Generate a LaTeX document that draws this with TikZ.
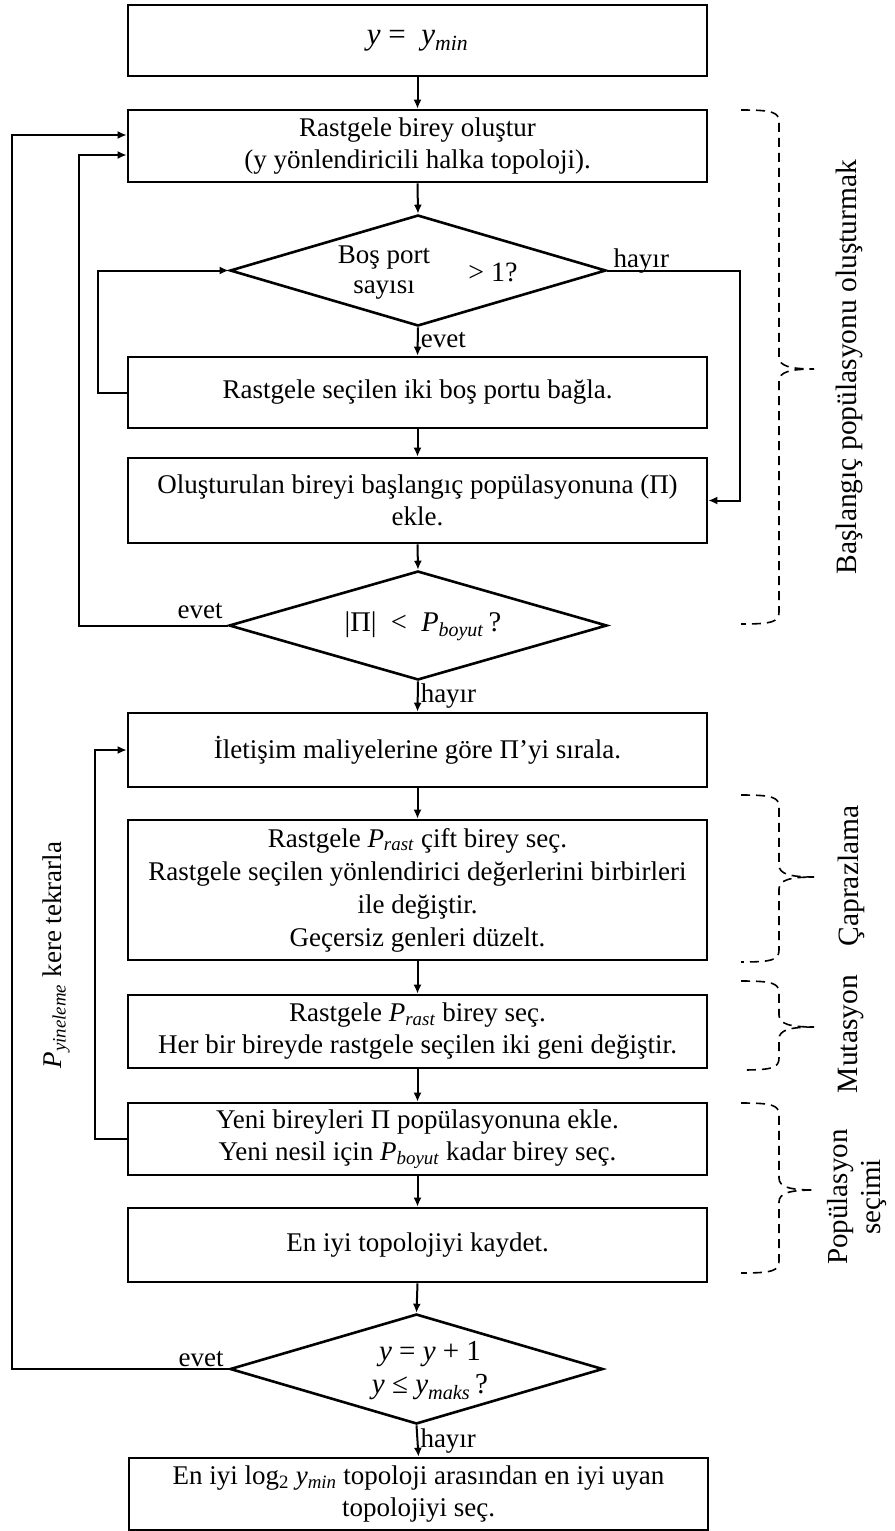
\documentclass[tikz,border=0pt]{standalone}
\usepackage{fontspec}
\setmainfont{Liberation Serif}
\usetikzlibrary{arrows.meta,shapes.geometric}

\newcommand{\fcBody}{\fontsize{27}{32}\selectfont}
\newcommand{\fcSide}{\fontsize{29.5}{34}\selectfont}
% italic variable with italic subscript
\newcommand{\vsub}[2]{\textit{#1}\textsubscript{\textit{#2}}}

% dashed curly bracket on the right: top, bottom, middle (y values)
\newcommand{\groupbrace}[3]{%
  \draw[bracket] (741,#1) .. controls (772,#1) and (779,#1+2) .. (779,#1+12)
    -- (779,#3-12) .. controls (779,#3-3) and (790,#3) .. (814,#3)
    .. controls (790,#3) and (779,#3+3) .. (779,#3+12)
    -- (779,#2-12) .. controls (779,#2-2) and (772,#2) .. (741,#2);}

\tikzset{
  box/.style={draw, line width=2.6pt, minimum width=579pt, inner sep=0pt,
              align=center, font=\fcBody},
  decision/.style={draw, diamond, line width=2.6pt, minimum width=376pt,
                   minimum height=111pt, inner sep=0pt},
  flow/.style={line width=2pt, -{Latex[length=9pt,width=8pt]}},
  tag/.style={font=\fcBody, inner sep=2pt},
  bracket/.style={line width=1.6pt, dash pattern=on 9pt off 6pt},
  side/.style={rotate=90, font=\fcSide, align=center},
}

\begin{document}
\begin{tikzpicture}[x=1pt,y=-1pt]
\useasboundingbox (0,0) rectangle (894,1531);

% main column
\node[box, minimum height=71pt, font=\fontsize{31}{34}\selectfont] (init) at (417.5,40.5)
  {\textit{y} =\ \ \vsub{y}{min}};
\node[box, minimum height=72pt] (gen) at (417.5,146)
  {Rastgele birey oluştur\\(y yönlendiricili halka topoloji).};
\node[decision] (ports) at (418,270.5) {};
\node[tag, align=center, font=\fontsize{27}{30}\selectfont] (portsA) at (384,273) {Boş port\\sayısı};
\node[tag, font=\fontsize{28}{32}\selectfont] (portsB) at (493,272) {> 1?};
\node[box, minimum height=71pt] (link) at (417.5,392.5)
  {Rastgele seçilen iki boş portu bağla.};
\node[box, minimum height=85pt] (add) at (417.5,500.5)
  {Oluşturulan bireyi başlangıç popülasyonuna (Π)\\ekle.};
\node[decision, minimum width=378pt, minimum height=109pt] (size) at (418,625.5) {};
\node[tag, font=\fontsize{28.5}{32}\selectfont] (sizeT) at (423,626)
  {|Π|\ \ <\ \ \vsub{P}{boyut}\,?};
\node[box, minimum height=74pt] (sort) at (417.5,750)
  {İletişim maliyelerine göre Π’yi sırala.};
\node[box, minimum height=140pt, font=\fontsize{27}{33}\selectfont] (cross) at (417.5,890)
  {Rastgele \vsub{P}{rast} çift birey seç.\\Rastgele seçilen yönlendirici değerlerini birbirleri\\ile değiştir.\\Geçersiz genleri düzelt.};
\node[box, minimum height=73pt] (mut) at (417.5,1031.5)
  {Rastgele \vsub{P}{rast} birey seç.\\Her bir bireyde rastgele seçilen iki geni değiştir.};
\node[box, minimum height=72pt] (sel) at (417.5,1139)
  {Yeni bireyleri Π popülasyonuna ekle.\\Yeni nesil için \vsub{P}{boyut} kadar birey seç.};
\node[box, minimum height=74pt] (best) at (417.5,1245) {En iyi topolojiyi kaydet.};
\node[decision, minimum width=373pt, minimum height=110pt] (loop) at (416.5,1369) {};
\node[tag, align=center, font=\fontsize{29}{33}\selectfont] (loopT) at (430,1371)
  {\textit{y}\ = \textit{y}\ + 1\\\textit{y}\ ≤ \vsub{y}{maks}\,?};
\node[box, minimum height=72pt] (final) at (418.5,1494)
  {En iyi log\textsubscript{2} \vsub{y}{min} topoloji arasından en iyi uyan\\topolojiyi seç.};

% straight flow
\draw[flow] (init.south) -- (gen.north);
\draw[flow] (gen.south) -- (ports.north);
\draw[flow] (ports.south) -- node[tag, right, pos=0.45] {evet} (link.north);
\draw[flow] (link.south) -- (add.north);
\draw[flow] (add.south) -- (size.north);
\draw[flow] (size.south) -- node[tag, right, pos=0.5] {hayır} (sort.north);
\draw[flow] (sort.south) -- (cross.north);
\draw[flow] (cross.south) -- (mut.north);
\draw[flow] (mut.south) -- (sel.north);
\draw[flow] (sel.south) -- (best.north);
\draw[flow] (best.south) -- (loop.north);
\draw[flow] (loop.south) -- node[tag, right, pos=0.5] {hayır} (final.north);

% "hayır" branch of the port test
\coordinate (noR) at (740,500.5);
\draw[flow] (ports.east) -| (noR) -- (add.east);
\node[tag, anchor=base west] at ([xshift=4pt,yshift=3pt]ports.east) {hayır};

% back loops on the left
\coordinate (lA) at (98,0);
\draw[flow] (link.west) -- (link.west -| lA) |- (ports.west);

\coordinate (lB) at (79,155);
\draw[flow] (size.west) -| (lB) -- (lB -| gen.west);
\node[tag, anchor=base east] at ([xshift=-3pt,yshift=7pt]size.west) {evet};

\coordinate (lC) at (12,135);
\draw[flow] (loop.west) -| (lC) -- (lC -| gen.west);
\node[tag, anchor=base east] at ([xshift=-3pt,yshift=3pt]loop.west) {evet};

\coordinate (lD) at (95,0);
\draw[flow] (sel.west) -- (sel.west -| lD) |- (sort.west);
\node[side, font=\fcBody] (iterT) at (56,955) {\vsub{P}{yineleme} kere tekrarla};

% phase brackets and their names
\groupbrace{110}{624}{369}
\groupbrace{795}{962}{877}
\groupbrace{981}{1070}{1027}
\groupbrace{1103}{1273}{1190}
\node[side] (phase1) at (849,367) {Başlangıç popülasyonu oluşturmak};
\node[side] (phase2) at (851,876) {Çaprazlama};
\node[side] (phase3) at (851,1034) {Mutasyon};
\node[side, font=\fontsize{29}{33}\selectfont] (phase4) at (857,1197) {Popülasyon\\seçimi};
\end{tikzpicture}
\end{document}
